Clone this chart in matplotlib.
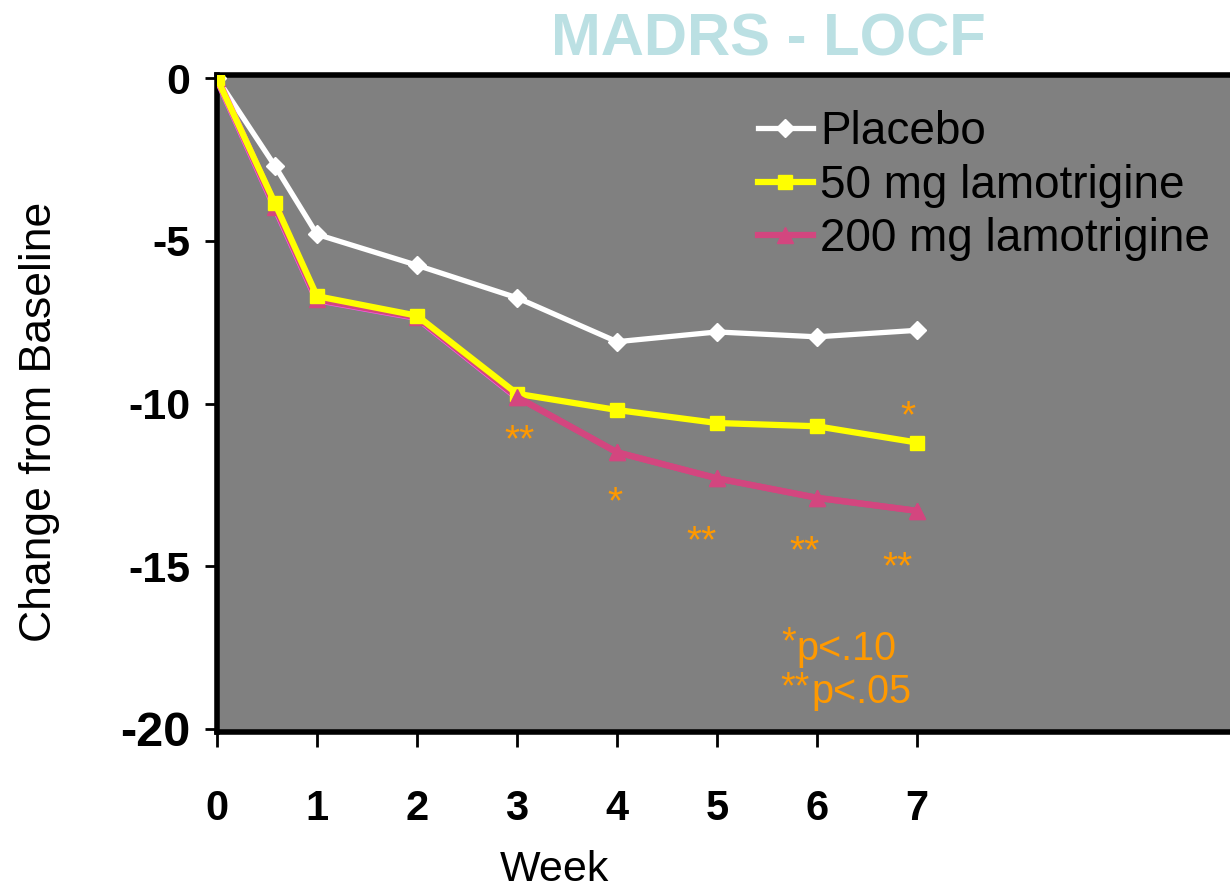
import matplotlib
matplotlib.use("Agg")
import matplotlib.pyplot as plt
from matplotlib import font_manager

# condensed font if we have it, else plain Liberation Sans
names = {f.name for f in font_manager.fontManager.ttflist}
narrow = "Liberation Sans Narrow" if "Liberation Sans Narrow" in names else "Liberation Sans"
plt.rcParams["font.family"] = [narrow, "DejaVu Sans"]

weeks = [0, 0.58, 1, 2, 3, 4, 5, 6, 7]
placebo = [0, -2.7, -4.8, -5.75, -6.75, -8.1, -7.8, -7.95, -7.75]
mg50 = [0, -3.85, -6.7, -7.3, -9.7, -10.2, -10.6, -10.7, -11.2]
mg200 = [0, -3.95, -6.8, -7.35, -9.8, -11.5, -12.3, -12.9, -13.3]

# significance marks (x, y of the star centres, text)
stars = [(3.03, -10.8, "**"), (3.98, -12.7, "*"), (4.85, -13.9, "**"),
         (5.88, -14.2, "**"), (6.81, -14.7, "**"), (6.91, -10.05, "*")]

gray = "#808080"
orange = "#FF9900"
W, H = 1230, 892


def px(x, y):
    return x / W, 1 - y / H


fig = plt.figure(figsize=(12.3, 8.92), dpi=100)
ax = fig.add_axes([217 / W, 1 - 732 / H, 1 - 217 / W, (732 - 75) / H])
ax.set_facecolor(gray)

ax.plot(weeks, placebo, color="white", lw=3.8, marker="D", ms=9,
        label="Placebo", zorder=3)
ax.plot(weeks[:5], mg200[:5], color="#FF55EE", lw=5.5, zorder=3.5)
ax.plot(weeks, mg200, color="#D3467F", lw=4.5, marker="^", ms=12,
        label="200 mg lamotrigine", zorder=3.6)
ax.plot(weeks, mg50, color="#FFFF00", lw=4.5, marker="s", ms=10,
        label="50 mg lamotrigine", zorder=4)
# late 200 mg part on top, as in the original
ax.plot(weeks[4:], mg200[4:], color="#D3467F", lw=4.5, marker="^", ms=12, zorder=4.5)

ax.set_xlim(0, 10.13)
ax.set_ylim(-20.1, 0.1)

# star glyph centre sits ~22 px above the baseline at 28 pt
star_off = 22 / 32.6
for x, y, s in stars:
    ax.text(x, y - star_off, s, color=orange, fontsize=28, ha="center",
            va="baseline")

ax.set_xticks(range(8))
ax.set_yticks([0, -5, -10, -15, -20])
ax.set_yticklabels(["0", "-5", "-10", "-15", "-20"])
ax.tick_params(axis="x", direction="out", length=11, width=2, pad=30,
               labelsize=30)
ax.tick_params(axis="y", direction="out", length=9, width=2, pad=10,
               labelsize=31)
for lab in ax.get_xticklabels() + ax.get_yticklabels():
    lab.set_fontweight("bold")
ax.get_yticklabels()[-1].set_fontsize(35)

for side in ["left", "bottom", "top"]:
    ax.spines[side].set_linewidth(4)
    ax.spines[side].set_color("black")
ax.spines["right"].set_visible(False)

handles, labels = ax.get_legend_handles_labels()
order = [0, 2, 1]
ax.legend([handles[i] for i in order], [labels[i] for i in order],
          loc="upper left", bbox_to_anchor=(0.534, 0.946), frameon=False,
          fontsize=33, handlelength=1.2, handletextpad=0.15,
          labelspacing=0.2, borderaxespad=0, borderpad=0)

fig.text(*px(781, 653), "*", color=orange, fontsize=27, ha="left", va="baseline")
fig.text(*px(796, 660), "p<.10", color=orange, fontsize=28.5, ha="left", va="baseline")
fig.text(*px(780, 698), "**", color=orange, fontsize=27, ha="left", va="baseline")
fig.text(*px(811, 703), "p<.05", color=orange, fontsize=28.5, ha="left", va="baseline")

fig.text(*px(768, 40), "MADRS - LOCF", color="#BBE0E3",
         fontsize=43, fontweight="bold", ha="center", va="center")
fig.text(*px(555, 870), "Week", fontsize=31, ha="center", va="center")
fig.text(*px(40, 422), "Change from Baseline", fontsize=32,
         rotation=90, ha="center", va="center")

fig.savefig("out.png", dpi=100)
